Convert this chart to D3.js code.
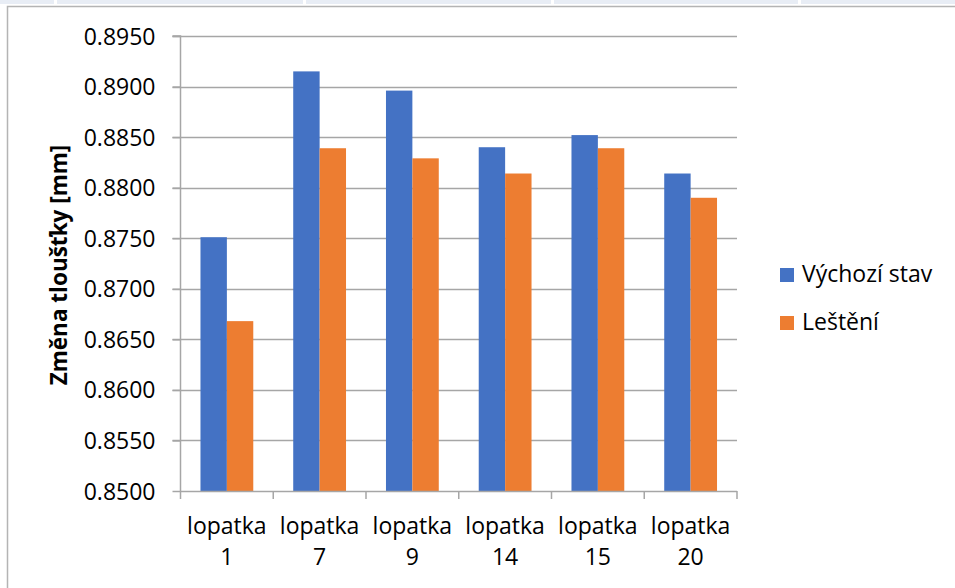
<!DOCTYPE html>
<html>
<head>
<meta charset="utf-8">
<script src="https://cdn.jsdelivr.net/npm/d3@7"></script>
<style>
  html, body { margin: 0; padding: 0; background: #fff; }
  svg { display: block; font-family: "Open Sans", sans-serif; }
</style>
</head>
<body>
<svg id="chart" width="955" height="588"></svg>
<script>
// Thickness of blades before and after polishing
const categories = ["lopatka 1", "lopatka 7", "lopatka 9", "lopatka 14", "lopatka 15", "lopatka 20"];
const seriesNames = ["Výchozí stav", "Leštění"];
const initialValues = [0.8751, 0.8915, 0.8896, 0.8840, 0.8852, 0.8814];
const polishedValues = [0.8668, 0.8839, 0.8829, 0.8814, 0.8839, 0.8790];
const yTicks = [0.8500, 0.8550, 0.8600, 0.8650, 0.8700, 0.8750, 0.8800, 0.8850, 0.8900, 0.8950];
const colors = ["#4472c4", "#ed7d31"];

const svg = d3.select("#chart");

// sheet header strip and chart frame
const headerCells = [[0, 54], [57, 303], [306, 551], [554, 798], [801, 955]];
svg.selectAll("rect.cell").data(headerCells).enter().append("rect")
  .attr("x", d => d[0]).attr("y", 0)
  .attr("width", d => d[1] - d[0]).attr("height", 4)
  .attr("fill", "#e8edf5");
svg.append("path")
  .attr("d", "M7.5,588 V6.5 H955")
  .attr("fill", "none").attr("stroke", "#b4b4b4").attr("stroke-width", 1.5);

const plot = { left: 180.5, right: 737, top: 36, bottom: 491 };

const x0 = d3.scaleBand().domain(categories).range([plot.left, plot.right]).paddingInner(0).paddingOuter(0);
const groupWidth = 52.8;
const x1 = d3.scaleBand().domain(seriesNames)
  .range([(x0.bandwidth() - groupWidth) / 2, (x0.bandwidth() + groupWidth) / 2]);
const y = d3.scaleLinear().domain([0.85, 0.895]).range([plot.bottom, plot.top]);

// horizontal gridlines
svg.append("g").selectAll("line").data(yTicks.slice(1)).enter().append("line")
  .attr("x1", plot.left - 8).attr("x2", plot.right)
  .attr("y1", d => Math.round(y(d)) + 0.5).attr("y2", d => Math.round(y(d)) + 0.5)
  .attr("stroke", "#a6a6a6").attr("stroke-width", 1.5);

// bars
const data = categories.map((c, i) => ({ cat: c, vals: [initialValues[i], polishedValues[i]] }));
const groups = svg.append("g").selectAll("g").data(data).enter().append("g")
  .attr("transform", d => `translate(${x0(d.cat)},0)`);
groups.selectAll("rect").data(d => d.vals.map((v, j) => ({ key: seriesNames[j], v, j })))
  .enter().append("rect")
  .attr("x", d => x1(d.key))
  .attr("width", x1.bandwidth())
  .attr("y", d => y(d.v))
  .attr("height", d => y(0.85) - y(d.v))
  .attr("fill", d => colors[d.j]);

// y axis
const yAxis = d3.axisLeft(y).tickValues(yTicks).tickFormat(d3.format(".4f")).tickSize(8).tickPadding(17);
const gy = svg.append("g").attr("transform", `translate(${plot.left},0)`).call(yAxis);
gy.select(".domain").attr("stroke", "#a6a6a6").attr("stroke-width", 1.5)
  .attr("d", `M-8,${plot.top} H0 V${plot.bottom}`);
gy.selectAll(".tick line").attr("stroke", "#a6a6a6").attr("stroke-width", 1.5);
gy.selectAll(".tick text").attr("font-size", 23).attr("fill", "#000")
  .attr("font-family", "'Open Sans', sans-serif").attr("dy", "0.35em");

// x axis
const xAxis = d3.axisBottom(x0).tickSize(0).tickFormat("");
const gx = svg.append("g").attr("transform", `translate(0,${plot.bottom})`).call(xAxis);
gx.select(".domain").attr("stroke", "#a6a6a6").attr("stroke-width", 1.5)
  .attr("d", `M${plot.left},0.5 H${plot.right}`);
const boundaries = categories.map(c => x0(c)).concat([x0.range()[1]]);
gx.selectAll("line.sep").data(boundaries).enter().append("line")
  .attr("class", "sep")
  .attr("x1", d => d).attr("x2", d => d).attr("y1", 0).attr("y2", 8)
  .attr("stroke", "#a6a6a6").attr("stroke-width", 1.5);

// category labels on two lines
const labels = svg.append("g").selectAll("text").data(categories).enter().append("text")
  .attr("text-anchor", "middle").attr("font-size", 23).attr("fill", "#000");
labels.each(function (d) {
  const parts = d.split(" ");
  const cx = x0(d) + x0.bandwidth() / 2;
  const t = d3.select(this);
  t.append("tspan").attr("x", cx).attr("y", 534).text(parts[0]);
  t.append("tspan").attr("x", cx).attr("y", 565).text(parts[1]);
});

// y axis title
svg.append("text")
  .attr("transform", "translate(67,265) rotate(-90)")
  .attr("text-anchor", "middle").attr("font-size", 22.5).attr("font-weight", "bold")
  .attr("fill", "#000")
  .text("Změna tloušťky [mm]");

// legend
const legend = svg.append("g").selectAll("g").data(seriesNames).enter().append("g")
  .attr("transform", (d, i) => `translate(780,${268 + i * 48})`);
legend.append("rect").attr("width", 14).attr("height", 14).attr("fill", (d, i) => colors[i]);
legend.append("text").attr("x", 22).attr("y", 14).attr("font-size", 23).attr("fill", "#000").text(d => d);
</script>
</body>
</html>
